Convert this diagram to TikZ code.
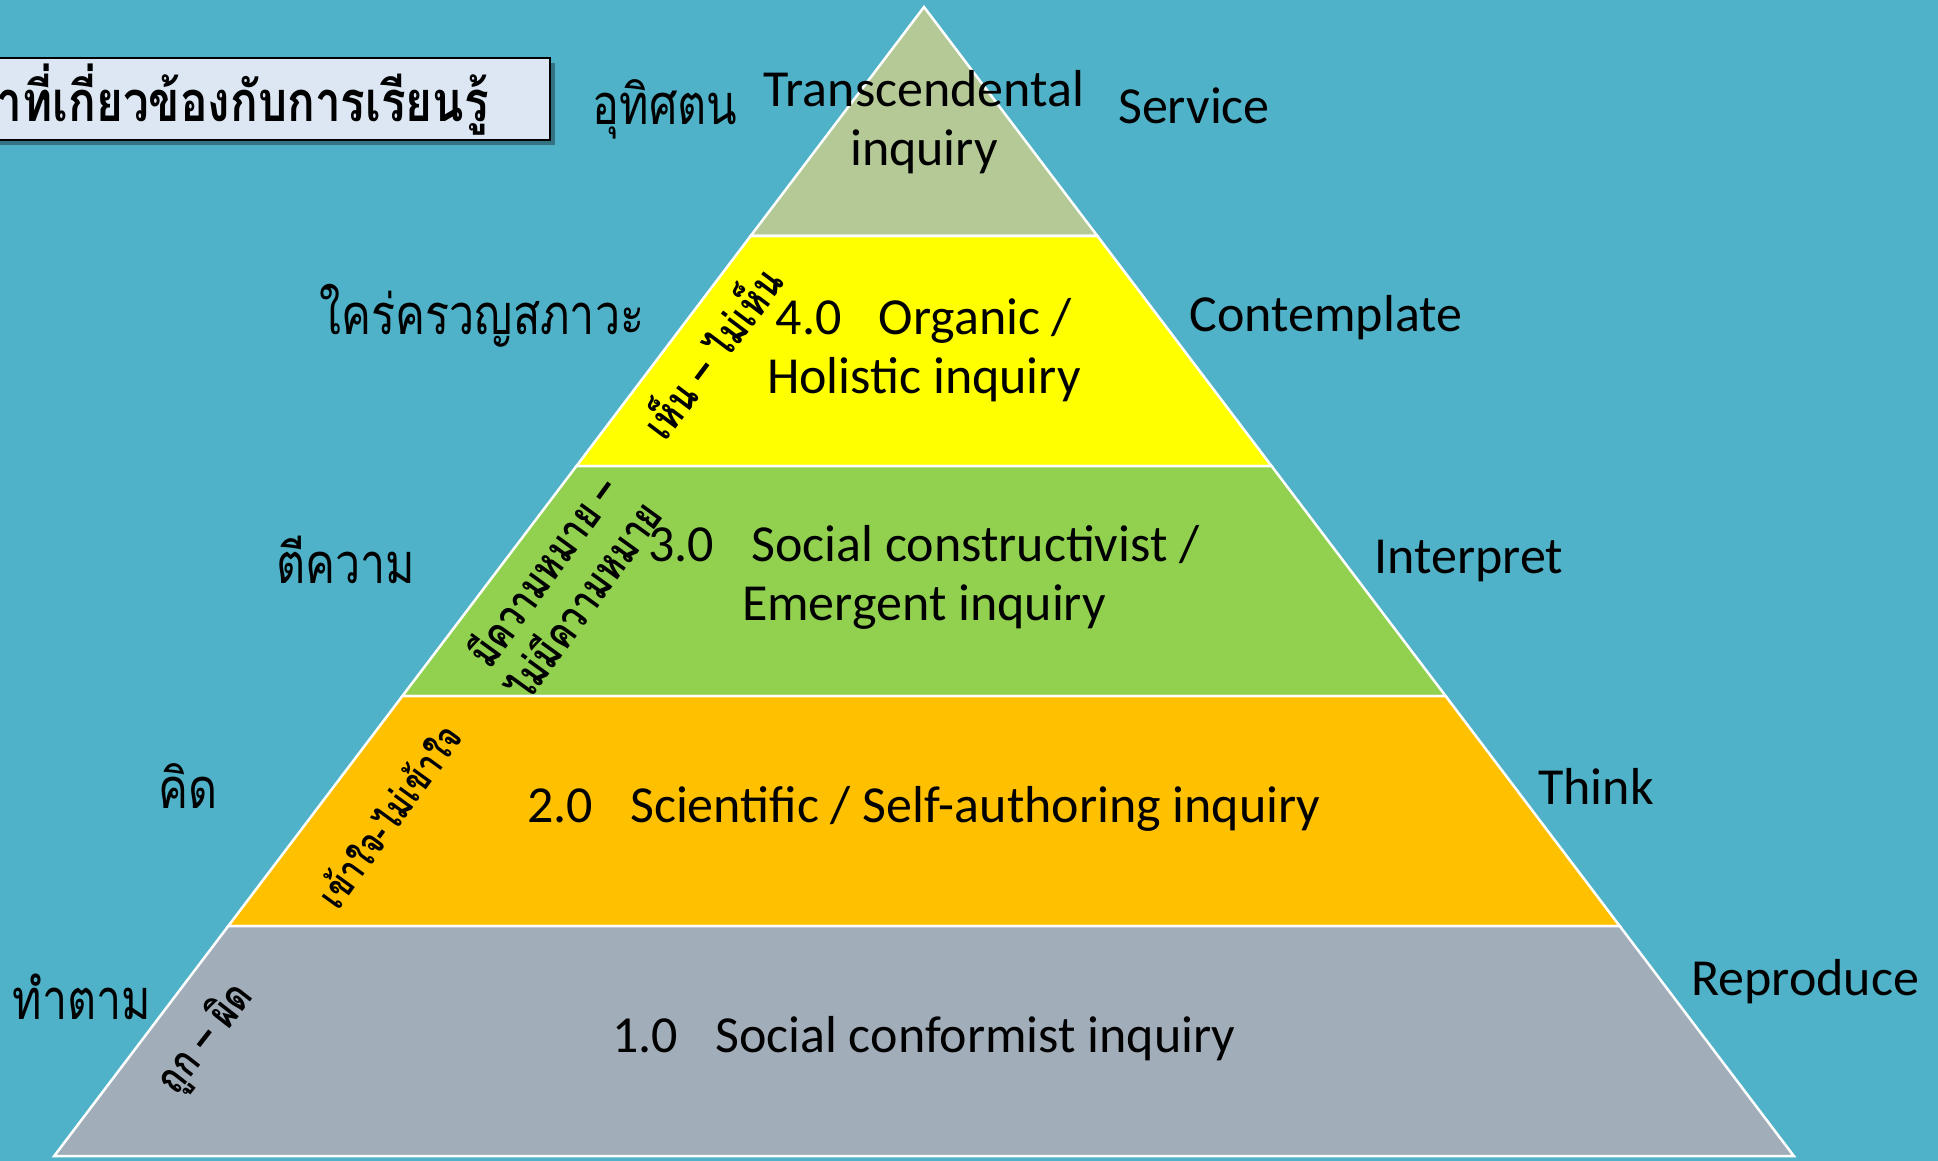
\documentclass[tikz,border=0pt]{standalone}
\usepackage{fontspec}
\setmainfont{Carlito}
\newfontfamily\thai[Script=Thai,FakeStretch=0.8]{Loma}
\newfontfamily\thaic[Script=Thai,FakeStretch=0.82]{Loma}
\definecolor{bgc}{HTML}{4FB2C8}
\definecolor{lvA}{HTML}{B4C995}
\definecolor{lvB}{HTML}{FFFF00}
\definecolor{lvC}{HTML}{92D050}
\definecolor{lvD}{HTML}{FFC000}
\definecolor{lvE}{HTML}{A2ADBA}
\definecolor{titlefill}{HTML}{DCE7F3}
\newcommand{\gapx}{\hspace{37pt}}
\tikzset{
  band/.style={draw=white, line width=2.5pt, line join=miter},
  eng/.style={font=\fontsize{52}{59}\selectfont, align=center, inner sep=0pt, text=black},
  thl/.style={font=\thai\fontsize{56}{64}\selectfont, inner sep=0pt, text=black},
  thr/.style={font=\thai\bfseries\fontsize{43}{50}\selectfont, inner sep=0pt, align=center, text=black},
}
\begin{document}
\begin{tikzpicture}[x=1pt,y=-1pt]
\useasboundingbox (0,0) rectangle (1938,1161);
\fill[bgc] (0,0) rectangle (1938,1161);
% pyramid bands
\path[band, fill=lvA] (924,7) -- (1097.4,236) -- (750.6,236) -- cycle;
\path[band, fill=lvB] (750.6,236) -- (1097.4,236) -- (1271.5,466) -- (576.5,466) -- cycle;
\path[band, fill=lvC] (576.5,466) -- (1271.5,466) -- (1445.6,696) -- (402.4,696) -- cycle;
\path[band, fill=lvD] (402.4,696) -- (1445.6,696) -- (1619.7,926) -- (228.3,926) -- cycle;
\path[band, fill=lvE] (228.3,926) -- (1619.7,926) -- (1793.8,1156) -- (54.2,1156) -- cycle;
% title box
\fill[black, opacity=0.35] (-20,63) rectangle (555,145);
\draw[black, line width=1.5pt, fill=titlefill] (-20,58) rectangle (550,140);
\node[font=\thaic\bfseries\fontsize{56}{60}\selectfont, anchor=east, inner sep=0pt] (title) at (489,100) {าที่เกี่ยวข้องกับการเรียนรู้};
% level texts
\node[eng] (t5) at (924,122) {Transcendental\\inquiry};
\node[eng] (t4) at (924,350) {4.0\gapx Organic /\\Holistic inquiry};
\node[eng] (t3) at (924,577) {3.0\gapx Social constructivist /\\Emergent inquiry};
\node[eng] (t2) at (924,809) {2.0\gapx Scientific / Self-authoring inquiry};
\node[eng] (t1) at (924,1039) {1.0\gapx Social conformist inquiry};
% right labels
\node[eng] (r5) at (1194,106) {Service};
\node[eng] (r4) at (1326,318) {Contemplate};
\node[eng] (r3) at (1469,561) {Interpret};
\node[eng] (r2) at (1596,786) {Think};
\node[eng] (r1) at (1805,982) {Reproduce};
% left labels
\node[thl] (l5) at (665,109) {อุทิศตน};
\node[thl] (l4) at (482,316) {ใคร่ครวญสภาวะ};
\node[thl] (l3) at (346,560) {ตีความ};
\node[thl] (l2) at (188,786) {คิด};
\node[thl] (l1) at (82,997) {ทำตาม};
% rotated labels
\node[thr, rotate=53] (s4) at (710,351) {เห็น – ไม่เห็น};
\node[thr, rotate=54] (s3) at (561,585) {มีความหมาย –\\ไม่มีความหมาย};
\node[thr, rotate=54, font=\thai\bfseries\fontsize{39}{46}\selectfont] (s2) at (388,815) {เข้าใจ-ไม่เข้าใจ};
\node[thr, rotate=52] (s1) at (206,1039) {ถูก – ผิด};
\end{tikzpicture}
\end{document}
